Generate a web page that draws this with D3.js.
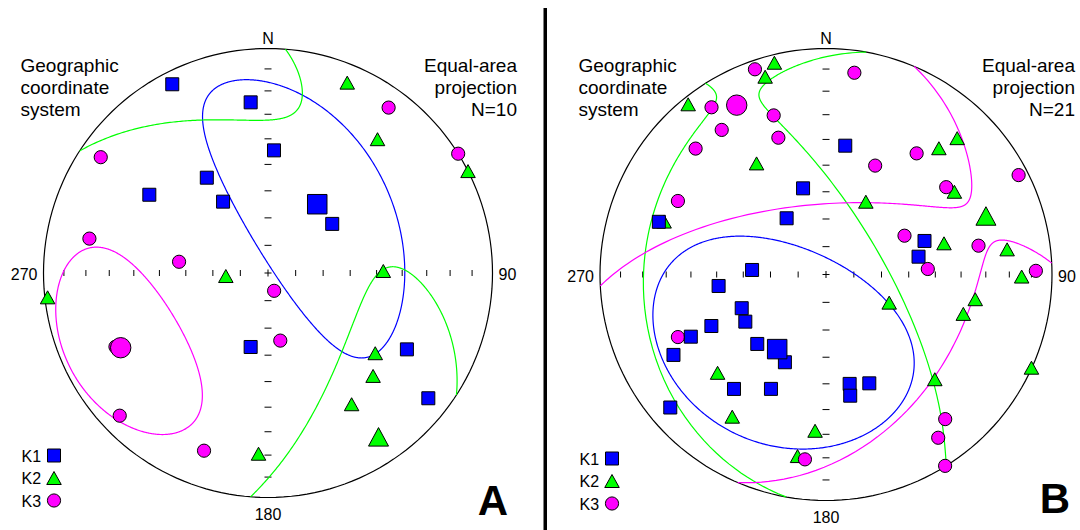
<!DOCTYPE html>
<html>
<head>
<meta charset="utf-8">
<script src="https://cdn.jsdelivr.net/npm/d3@7"></script>
<style>
  html, body { margin: 0; padding: 0; background: #fff; }
  svg { display: block; }
  text { font-family: "Liberation Sans", Arial, Helvetica, sans-serif; fill: #000; }
</style>
</head>
<body>
<svg id="chart" width="1080" height="530"></svg>
<script>
// Principal susceptibility axes, each given as [trend, plunge] in degrees.
const axisNames = ["K1", "K2", "K3"];
const axisColors = ["#0000ff", "#00ff00", "#ff00ff"];
const plungeTicks = [10, 20, 30, 40, 50, 60, 70, 80];
const dirLabels = ["N", "90", "180", "270"];

// Site A (N=10)
const siteA_K1 = [[333.1,6.4],[354.2,24.6],[2.8,44.5],[327.3,48.2],[303.4,36.8],[327.8,59.2],[52.6,60.5],[193.2,62.3],[118.8,30.1],[128.0,10.3]];
const siteA_K2 = [[22.6,9.0],[39.3,24.0],[63.0,0.0],[265.9,74.7],[89.0,47.4],[263.7,1.4],[126.8,40.1],[134.4,34.8],[147.5,31.3],[183.0,20.5]];
const siteA_K3 = [[36.1,9.7],[57.9,0.0],[304.7,10.3],[280.9,20.1],[277.2,57.2],[161.0,83.2],[169.7,65.0],[244.2,25.5],[226.1,9.2],[199.8,17.0]];
const siteA_mean = [[35.6,59.1],[146.0,13.0],[243.1,27.3]];
// confidence cones: [semi-angle toward first other axis, semi-angle toward second other axis,
// rotation of the cone about the mean from the first toward the second axis]
const siteA_conf = [[57.5,26.5,3],[59,25.5,-15],[24.5,32.5,5]];

// Site B (N=21)
const siteB_K1 = [[8.5,41.9],[345.1,57.6],[325.0,65.2],[287.5,23.5],[71.2,52.0],[79.1,55.7],[273.5,63.2],[263.9,50.5],[248.2,57.0],[239.7,56.0],[245.8,43.7],[245.3,34.5],[224.7,54.4],[205.1,54.7],[242.2,24.7],[218.8,35.3],[205.7,43.2],[167.8,49.0],[158.3,47.0],[168.7,44.5],[229.5,10.3]];
const siteB_K2 = [[346.3,4.0],[342.9,9.3],[321.0,3.5],[328.0,41.6],[43.9,17.4],[41.8,26.0],[57.2,32.9],[28.7,59.9],[288.1,25.6],[75.2,45.1],[82.1,20.2],[90.6,14.5],[114.0,65.0],[99.4,33.5],[106.0,36.9],[227.8,35.5],[114.4,0.2],[133.9,33.6],[213.4,25.6],[184.0,31.3],[188.9,19.8]];
const siteB_K3 = [[340.9,4.4],[8.0,10.8],[325.6,11.3],[341.8,26.8],[324.2,22.2],[340.8,36.1],[314.0,20.9],[36.8,33.5],[24.3,46.1],[62.7,4.6],[54.0,34.6],[296.4,27.7],[63.7,58.2],[79.3,31.9],[86.9,52.8],[89.0,7.9],[247.1,29.6],[140.5,18.2],[145.5,13.4],[148.1,0.3],[186.5,18.8]];
const siteB_mean = [[213.2,57.6],[69.9,25.6],[332.2,16.4]];
const siteB_conf = [[48.5,37.5,-45],[43,83.5,5],[42,82.5,-2]];

const panels = [
  { id: "A", count: 10, cx: 268, cy: 273, R: 224.5, axes: [siteA_K1, siteA_K2, siteA_K3], mean: siteA_mean, conf: siteA_conf, letterX: 493, letterY: 515 },
  { id: "B", count: 21, cx: 826, cy: 274.5, R: 226, axes: [siteB_K1, siteB_K2, siteB_K3], mean: siteB_mean, conf: siteB_conf, letterX: 1055, letterY: 513 }
];

const rad = Math.PI / 180;
const dot = (a, b) => a[0]*b[0] + a[1]*b[1] + a[2]*b[2];
const cross = (a, b) => [a[1]*b[2]-a[2]*b[1], a[2]*b[0]-a[0]*b[2], a[0]*b[1]-a[1]*b[0]];
const unit = a => { const l = Math.hypot(a[0], a[1], a[2]); return a.map(x => x / l); };
// east, north, up components of a downward line
function lineVec([t, p]) {
  return [Math.cos(p*rad)*Math.sin(t*rad), Math.cos(p*rad)*Math.cos(t*rad), -Math.sin(p*rad)];
}
// vector -> [lon, lat] with lon = trend, lat = -plunge
function toGeo(v) {
  const n = unit(v);
  return [Math.atan2(n[0], n[1]) / rad, Math.asin(Math.max(-1, Math.min(1, n[2]))) / rad];
}
// elliptical confidence cone about one mean axis, plus its antipodal trace
function coneLines(mean, i, cone) {
  const others = [0, 1, 2].filter(k => k !== i);
  const m = lineVec(mean[i]);
  const a = lineVec(mean[others[0]]);
  const d = dot(a, m);
  const u0 = unit([a[0]-d*m[0], a[1]-d*m[1], a[2]-d*m[2]]);
  let v0 = cross(m, u0);
  if (dot(v0, lineVec(mean[others[1]])) < 0) v0 = v0.map(x => -x);
  const w = cone[2] * rad;
  const u = [0, 1, 2].map(k => Math.cos(w)*u0[k] + Math.sin(w)*v0[k]);
  const v = [0, 1, 2].map(k => -Math.sin(w)*u0[k] + Math.cos(w)*v0[k]);
  const t1 = Math.tan(cone[0]*rad), t2 = Math.tan(cone[1]*rad);
  const ring = d3.range(0, 360.5, 0.5).map(deg => {
    const c = Math.cos(deg*rad), s = Math.sin(deg*rad);
    return [0, 1, 2].map(k => m[k] + t1*c*u[k] + t2*s*v[k]);
  });
  return [ring.map(toGeo), ring.map(p => toGeo(p.map(x => -x)))];
}

// marker shapes centred on (0,0)
function squarePath(s) { const h = s/2; return `M${-h},${-h}H${h}V${h}H${-h}Z`; }
function trianglePath(w, h) { return `M0,${-h/2}L${w/2},${h/2}L${-w/2},${h/2}Z`; }

const svg = d3.select("#chart");
svg.append("rect").attr("x", 543.5).attr("y", 8).attr("width", 3.5).attr("height", 522).attr("fill", "#000");

const markers = [
  { draw: (g, big) => g.append("path").attr("d", big ? squarePath(19.5) : squarePath(13)) },
  { draw: (g, big) => g.append("path").attr("d", big ? trianglePath(20, 18.5) : trianglePath(14.5, 13)) },
  { draw: (g, big) => g.append("circle").attr("r", big ? 10.2 : 6.6) }
];

panels.forEach(pn => {
  const proj = d3.geoAzimuthalEqualArea()
    .rotate([0, 90])
    .scale(pn.R / Math.SQRT2)
    .translate([pn.cx, pn.cy])
    .clipAngle(90)
    .precision(0.1);
  const path = d3.geoPath(proj);
  const pos = d => proj([d[0], -d[1]]);
  const g = svg.append("g");

  // primitive circle
  g.append("path").datum({ type: "Sphere" }).attr("d", path)
    .attr("fill", "none").attr("stroke", "#000").attr("stroke-width", 1.2);

  // plunge ticks along N-S and E-W
  [0, 180].forEach(tr => plungeTicks.forEach(p => {
    const [x, y] = proj([tr, -p]);
    g.append("line").attr("x1", x - 3.5).attr("x2", x + 3.5).attr("y1", y).attr("y2", y)
      .attr("stroke", "#000").attr("stroke-width", 1);
  }));
  [90, 270].forEach(tr => plungeTicks.forEach(p => {
    const [x, y] = proj([tr, -p]);
    g.append("line").attr("x1", x).attr("x2", x).attr("y1", y - 3).attr("y2", y + 3)
      .attr("stroke", "#000").attr("stroke-width", 1);
  }));
  const [ox, oy] = proj([0, -90]);
  g.append("path").attr("d", `M${ox-3.5},${oy}H${ox+3.5}M${ox},${oy-3.5}V${oy+3.5}`)
    .attr("stroke", "#000").attr("stroke-width", 1);

  // direction labels
  const fs = 16;
  g.append("text").attr("x", pn.cx).attr("y", pn.cy - pn.R - 4.5).attr("text-anchor", "middle").attr("font-size", fs).text(dirLabels[0]);
  g.append("text").attr("x", pn.cx + pn.R + 6).attr("y", pn.cy + 7).attr("font-size", fs).text(dirLabels[1]);
  g.append("text").attr("x", pn.cx).attr("y", pn.cy + pn.R + 22.5).attr("text-anchor", "middle").attr("font-size", fs).text(dirLabels[2]);
  g.append("text").attr("x", pn.cx - pn.R - 6).attr("y", pn.cy + 7).attr("text-anchor", "end").attr("font-size", fs).text(dirLabels[3]);

  // corner notes
  ["Geographic", "coordinate", "system"].forEach((s, i) =>
    g.append("text").attr("x", pn.cx - 247.5).attr("y", 72 + i * 22).attr("font-size", 19).text(s));
  ["Equal-area", "projection", "N=" + pn.count].forEach((s, i) =>
    g.append("text").attr("x", pn.cx + 249).attr("y", 72 + i * 22).attr("text-anchor", "end").attr("font-size", 19).text(s));

  // confidence cones
  [0, 1, 2].forEach(i => {
    g.append("path")
      .datum({ type: "MultiLineString", coordinates: coneLines(pn.mean, i, pn.conf[i]) })
      .attr("d", path).attr("fill", "none").attr("stroke", axisColors[i]).attr("stroke-width", 1.2);
  });

  // specimen axes
  [1, 2, 0].forEach(i => {
    pn.axes[i].forEach(d => {
      const [x, y] = pos(d);
      const m = g.append("g").attr("transform", `translate(${x},${y})`);
      markers[i].draw(m, false).attr("fill", axisColors[i]).attr("stroke", "#000").attr("stroke-width", 1);
    });
  });
  // mean axes
  [1, 2, 0].forEach(i => {
    const [x, y] = pos(pn.mean[i]);
    const m = g.append("g").attr("transform", `translate(${x},${y})`);
    markers[i].draw(m, true).attr("fill", axisColors[i]).attr("stroke", "#000").attr("stroke-width", 1);
  });

  // legend
  const base = pn.cy + pn.R;
  [-42, -19.5, 3].forEach((off, i) => {
    const y = base + off;
    g.append("text").attr("x", pn.cx - 246.5).attr("y", y + 6).attr("font-size", fs).text(axisNames[i]);
    const m = g.append("g").attr("transform", `translate(${pn.cx - 214},${y})`);
    markers[i].draw(m, false).attr("fill", axisColors[i]).attr("stroke", "#000").attr("stroke-width", 1);
  });

  // panel letter
  g.append("text").attr("x", pn.letterX).attr("y", pn.letterY).attr("text-anchor", "middle")
    .attr("font-size", 42).attr("font-weight", "bold").text(pn.id);
});
</script>
</body>
</html>
